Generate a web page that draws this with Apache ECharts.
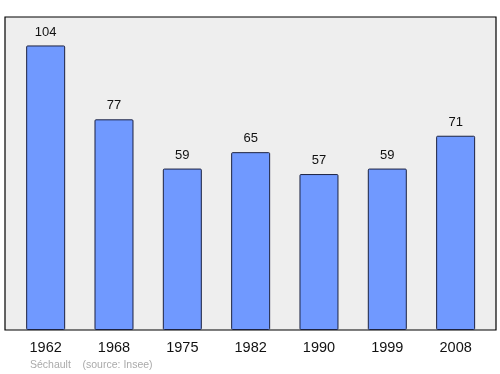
<!DOCTYPE html>
<html><head><meta charset="utf-8">
<script src="https://cdn.jsdelivr.net/npm/echarts@6/dist/echarts.min.js"></script>
<style>html,body{margin:0;padding:0;background:#fff}#c{width:500px;height:374px}</style>
</head><body><div id="c"></div>
<script>
const years = ['1962','1968','1975','1982','1990','1999','2008'];
const population = [104, 77, 59, 65, 57, 59, 71];
const footerText = 'Séchault    (source: Insee)';

const chart = echarts.init(document.getElementById('c'), null, {renderer:'canvas'});
chart.setOption({
  animation: false,
  backgroundColor: '#ffffff',
  grid: [
    {left: 5, top: 17, width: 491, height: 313, show: true, backgroundColor: '#eeeeee', borderColor: '#000', borderWidth: 1.2, z: 0},
    {left: 11.5, top: 17, width: 478.3, height: 313, show: false}
  ],
  xAxis: [
    {gridIndex: 0, type: 'value', show: false, min: 0, max: 1},
    {gridIndex: 1, type: 'category', data: years, boundaryGap: true,
     axisLine: {show: false}, axisTick: {show: false},
     axisLabel: {color: '#111', fontSize: 14.5, margin: 10, fontFamily: 'Liberation Sans, Arial, sans-serif'}}
  ],
  yAxis: [
    {gridIndex: 0, type: 'value', show: false, min: 0, max: 1},
    {gridIndex: 1, type: 'value', min: 0, max: 114.4, show: false}
  ],
  series: [{
    type: 'bar', xAxisIndex: 1, yAxisIndex: 1, data: population, barWidth: 39,
    itemStyle: {color: '#7099ff', borderColor: '#1c2240', borderWidth: 1, borderRadius: 1},
    label: {show: true, position: 'top', distance: 7, color: '#111', fontSize: 13, fontFamily: 'Liberation Sans, Arial, sans-serif'}
  }],
  graphic: [{
    type: 'text', left: 30, top: 360,
    style: {text: footerText, fill: '#aaaaaa', fontSize: 10.5, fontFamily: 'Liberation Sans, Arial, sans-serif'}
  }]
});
</script></body></html>
